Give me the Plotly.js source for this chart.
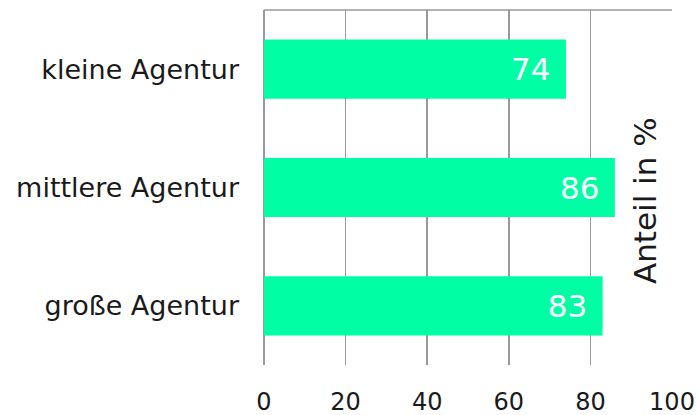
<!DOCTYPE html>
<html>
<head>
<meta charset="utf-8">
<script src="https://cdn.plot.ly/plotly-3.0.1.min.js"></script>
<style>html,body{margin:0;padding:0;background:#fff;}#chart{width:697px;height:415px;}</style>
</head>
<body>
<div id="chart"></div>
<script>
const categories = ["kleine Agentur", "mittlere Agentur", "große Agentur"];
const values = [74, 86, 83];
const tickValues = [0, 20, 40, 60, 80, 100];
const axisTitle = "Anteil in %";

const FONT = "DejaVu Sans, sans-serif";
const pad = "\u2009\u2009";

const trace = {
  type: "bar",
  orientation: "h",
  y: categories,
  x: values,
  marker: {color: "#00FFA4"},
  width: 0.5,
  text: values.map(v => v + pad),
  textposition: "inside",
  insidetextanchor: "end",
  textfont: {family: FONT, size: 31, color: "#ffffff"},
  cliponaxis: false,
  hoverinfo: "skip"
};

const layout = {
  width: 697, height: 415,
  margin: {l: 264, r: 25, t: 10, b: 50},
  paper_bgcolor: "#fff", plot_bgcolor: "#fff",
  showlegend: false,
  font: {family: FONT, color: "#1a1a1a", size: 24},
  xaxis: {
    range: [0, 100], tickvals: tickValues, ticktext: tickValues.map(String),
    showgrid: true, gridcolor: "#999999", gridwidth: 1.5,
    zeroline: true, zerolinecolor: "#999999", zerolinewidth: 1.5,
    showline: false, ticks: "", ticklabelstandoff: 20,
    tickfont: {family: FONT, size: 24, color: "#1a1a1a"},
    fixedrange: true
  },
  yaxis: {
    categoryorder: "array", categoryarray: categories, autorange: "reversed",
    showgrid: false, zeroline: false, showline: false, ticks: "",
    ticklabelstandoff: 24,
    tickfont: {family: FONT, size: 27, color: "#1a1a1a"},
    fixedrange: true
  },
  shapes: [{type: "line", xref: "paper", yref: "paper", x0: 0, x1: 1, y0: 1, y1: 1,
            line: {color: "#999999", width: 1.5}}],
  annotations: [{
    text: axisTitle, xref: "x", yref: "paper", x: 93.4, y: 0.462,
    textangle: -90, showarrow: false, xanchor: "center", yanchor: "middle",
    font: {family: FONT, size: 31, color: "#1a1a1a"}
  }]
};

Plotly.newPlot("chart", [trace], layout, {displayModeBar: false, staticPlot: true});
</script>
</body>
</html>
